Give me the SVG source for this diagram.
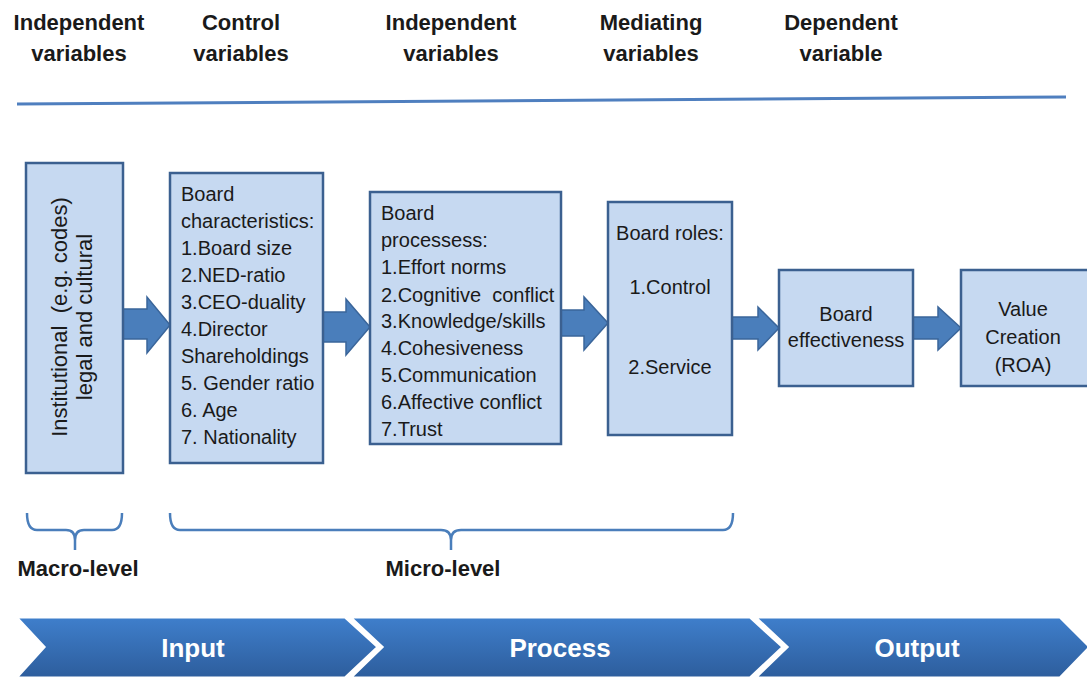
<svg xmlns="http://www.w3.org/2000/svg" width="1087" height="677" viewBox="0 0 1087 677">
<defs>
<linearGradient id="chev" x1="0" y1="0" x2="0" y2="1">
<stop offset="0" stop-color="#3f7fcc"/>
<stop offset="1" stop-color="#2d5d9c"/>
</linearGradient>
<style>
.hd{font-family:"Liberation Sans",Arial,sans-serif;font-weight:bold;font-size:22px;fill:#1a1a1a;text-anchor:middle}
.box{fill:#c6d9f1;stroke:#3b6090;stroke-width:2.5}
.t{font-family:"Liberation Sans",Arial,sans-serif;font-size:20px;fill:#1a1a1a;white-space:pre}
.tc{font-family:"Liberation Sans",Arial,sans-serif;font-size:20px;fill:#1a1a1a;text-anchor:middle;white-space:pre}
.arr{fill:#4a7ebb;stroke:#3a659a;stroke-width:1.5}
.br{fill:none;stroke:#4a7ebb;stroke-width:2.5}
.lv{font-family:"Liberation Sans",Arial,sans-serif;font-weight:bold;font-size:22px;fill:#1a1a1a;text-anchor:middle}
.ch{fill:url(#chev);stroke:#ffffff;stroke-width:3}
.cht{font-family:"Liberation Sans",Arial,sans-serif;font-weight:bold;font-size:26px;fill:#ffffff;text-anchor:middle}
</style>
</defs>
<rect width="1087" height="677" fill="#ffffff"/>

<g id="headers">
<text class="hd" x="79" y="30">Independent</text>
<text class="hd" x="79" y="61">variables</text>
<text class="hd" x="241" y="30">Control</text>
<text class="hd" x="241" y="61">variables</text>
<text class="hd" x="451" y="30">Independent</text>
<text class="hd" x="451" y="61">variables</text>
<text class="hd" x="651" y="30">Mediating</text>
<text class="hd" x="651" y="61">variables</text>
<text class="hd" x="841" y="30">Dependent</text>
<text class="hd" x="841" y="61">variable</text>
<line x1="17" y1="104" x2="1066" y2="97" stroke="#4f7fbf" stroke-width="3"/>
</g>

<g id="connectors">
<polygon class="arr" points="123,309 147,309 147,297 170,325 147,353 147,339 123,339"/>
<polygon class="arr" points="323,312 346,312 346,299 370,327 346,355 346,342 323,342"/>
<polygon class="arr" points="561,310 584,310 584,297 608,323 584,350 584,336 561,336"/>
<polygon class="arr" points="732,317 758,317 758,307 779,328 758,350 758,339 732,339"/>
<polygon class="arr" points="913,317 938,317 938,307 961,328 938,350 938,339 913,339"/>
</g>

<g id="node-institutional">
<rect class="box" x="26" y="163" width="97" height="310"/>
<text class="tc" style="font-size:22px" transform="translate(67,317) rotate(-90)" xml:space="preserve">Institutional  (e.g. codes)</text>
<text class="tc" style="font-size:22px" transform="translate(92,317) rotate(-90)">legal and cultural</text>
</g>

<g id="node-characteristics">
<rect class="box" x="170" y="173" width="153" height="290"/>
<text class="t" x="181" y="201">Board</text>
<text class="t" x="181" y="228">characteristics:</text>
<text class="t" x="181" y="255">1.Board size</text>
<text class="t" x="181" y="282">2.NED-ratio</text>
<text class="t" x="181" y="309">3.CEO-duality</text>
<text class="t" x="181" y="336">4.Director</text>
<text class="t" x="181" y="363">Shareholdings</text>
<text class="t" x="181" y="390">5. Gender ratio</text>
<text class="t" x="181" y="417">6. Age</text>
<text class="t" x="181" y="444">7. Nationality</text>
</g>

<g id="node-processes">
<rect class="box" x="370" y="192" width="191" height="252"/>
<text class="t" x="381" y="220">Board</text>
<text class="t" x="381" y="247">processess:</text>
<text class="t" x="381" y="274">1.Effort norms</text>
<text class="t" x="381" y="302" xml:space="preserve">2.Cognitive  conflict</text>
<text class="t" x="381" y="328">3.Knowledge/skills</text>
<text class="t" x="381" y="355">4.Cohesiveness</text>
<text class="t" x="381" y="382">5.Communication</text>
<text class="t" x="381" y="409">6.Affective conflict</text>
<text class="t" x="381" y="436">7.Trust</text>
</g>

<g id="node-roles">
<rect class="box" x="608" y="202" width="124" height="233"/>
<text class="tc" x="670" y="240">Board roles:</text>
<text class="tc" x="670" y="294">1.Control</text>
<text class="tc" x="670" y="374">2.Service</text>
</g>

<g id="node-effectiveness">
<rect class="box" x="779" y="270" width="134" height="116"/>
<text class="tc" x="846" y="321">Board</text>
<text class="tc" x="846" y="347">effectiveness</text>
</g>

<g id="node-value">
<rect class="box" x="961" y="270" width="130" height="116"/>
<text class="tc" x="1023" y="316">Value</text>
<text class="tc" x="1023" y="344">Creation</text>
<text class="tc" x="1023" y="372">(ROA)</text>
</g>

<g id="levels">
<path class="br" d="M27,513 Q27,530 37,530 L66,530 Q75,530 75,540 L75,550 M75,540 Q75,530 84,530 L112,530 Q122,530 122,513"/>
<path class="br" d="M170,513 Q170,530 180,530 L441,530 Q451,530 451,540 L451,550 M451,540 Q451,530 461,530 L723,530 Q733,530 733,513"/>
<text class="lv" x="78" y="576">Macro-level</text>
<text class="lv" x="443" y="576">Micro-level</text>
</g>

<g id="stages">
<polygon class="ch" points="16,617 345,617 378,647 345,678 16,678 44,647"/>
<polygon class="ch" points="350,617 750,617 783,647 750,678 350,678 382,647"/>
<polygon class="ch" points="755,617 1060,617 1090,647 1060,678 755,678 787,647"/>
<text class="cht" x="193" y="657">Input</text>
<text class="cht" x="560" y="657">Process</text>
<text class="cht" x="917" y="657">Output</text>
</g>
</svg>
